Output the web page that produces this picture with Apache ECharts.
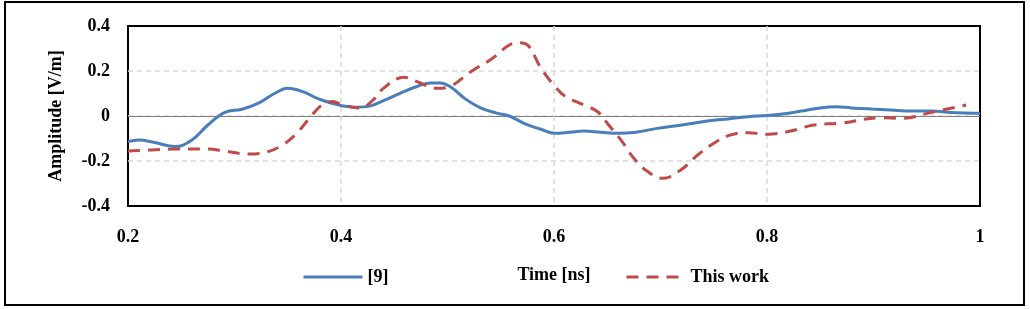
<!DOCTYPE html>
<html>
<head>
<meta charset="utf-8">
<script src="https://cdn.jsdelivr.net/npm/echarts@6/dist/echarts.min.js"></script>
<style>
html,body{margin:0;padding:0;background:#fff;}
#c{width:1030px;height:309px;}
</style>
</head>
<body>
<div id="c"></div>
<script>
// ---- data ----
var seriesNames = ['[9]', 'This work'];
var xTickLabels = ['0.2', '0.4', '0.6', '0.8', '1'];
var yTickLabels = ['-0.4', '-0.2', '0', '0.2', '0.4'];
var xTitle = 'Time [ns]';
var yTitle = 'Amplitude [V/m]';

var refTime = [0.2, 0.21, 0.225, 0.244, 0.26, 0.275, 0.291, 0.307, 0.322, 0.338, 0.35, 0.364, 0.379, 0.392, 0.402, 0.413, 0.427, 0.441, 0.456, 0.47, 0.484, 0.493, 0.503, 0.517, 0.531, 0.546, 0.558, 0.573, 0.587, 0.601, 0.615, 0.628, 0.644, 0.66, 0.677, 0.697, 0.72, 0.744, 0.765, 0.782, 0.8, 0.82, 0.832, 0.85, 0.865, 0.879, 0.898, 0.916, 0.935, 0.954, 0.973, 1.0];
var refAmp = [-0.114, -0.107, -0.118, -0.136, -0.107, -0.04, 0.016, 0.03, 0.056, 0.101, 0.123, 0.108, 0.076, 0.056, 0.044, 0.039, 0.044, 0.071, 0.102, 0.129, 0.147, 0.147, 0.129, 0.075, 0.036, 0.013, 0.0, -0.035, -0.058, -0.077, -0.072, -0.067, -0.072, -0.077, -0.072, -0.055, -0.04, -0.022, -0.012, -0.003, 0.002, 0.012, 0.022, 0.036, 0.041, 0.036, 0.031, 0.027, 0.022, 0.022, 0.016, 0.012];

var workTime = [0.2, 0.222, 0.244, 0.275, 0.291, 0.313, 0.331, 0.345, 0.357, 0.369, 0.382, 0.392, 0.402, 0.418, 0.43, 0.44, 0.459, 0.472, 0.49, 0.503, 0.522, 0.54, 0.566, 0.575, 0.587, 0.601, 0.611, 0.628, 0.641, 0.65, 0.663, 0.675, 0.688, 0.702, 0.719, 0.735, 0.75, 0.766, 0.782, 0.801, 0.822, 0.844, 0.869, 0.907, 0.926, 0.957, 0.987];
var workAmp = [-0.156, -0.151, -0.147, -0.147, -0.156, -0.169, -0.159, -0.129, -0.084, -0.018, 0.049, 0.064, 0.049, 0.035, 0.071, 0.124, 0.172, 0.152, 0.123, 0.133, 0.197, 0.249, 0.326, 0.316, 0.219, 0.13, 0.086, 0.049, 0.019, -0.032, -0.107, -0.188, -0.247, -0.277, -0.24, -0.173, -0.121, -0.084, -0.074, -0.081, -0.067, -0.04, -0.032, -0.008, -0.01, 0.019, 0.049];

function pairs(xs, ys) { return xs.map(function (x, i) { return [x, ys[i]]; }); }

var FONT = 'Liberation Serif';
var txt = { fontFamily: FONT, fontWeight: 'bold', fontSize: 18, color: '#000' };

var chart = echarts.init(document.getElementById('c'), null, { renderer: 'canvas' });
chart.setOption({
  animation: false,
  backgroundColor: '#fff',
  graphic: [{
    type: 'rect', shape: { x: 5, y: 2, width: 1019, height: 303 },
    style: { fill: 'none', stroke: '#000', lineWidth: 2 }, silent: true, z: 100
  }],
  grid: { left: 128, right: 50, top: 26, bottom: 103, show: true, borderColor: '#000', borderWidth: 2, backgroundColor: 'transparent' },
  legend: [{
    data: [seriesNames[0]], left: 297, top: 263, itemWidth: 59, itemHeight: 14, itemGap: 5,
    itemStyle: { opacity: 0 }, lineStyle: { width: 3 },
    textStyle: txt
  }, {
    data: [seriesNames[1]], left: 620, top: 263, itemWidth: 59, itemHeight: 14, itemGap: 5,
    itemStyle: { opacity: 0 }, lineStyle: { width: 3 },
    textStyle: txt
  }],
  xAxis: {
    type: 'value', min: 0.2, max: 1, interval: 0.2,
    name: xTitle, nameLocation: 'middle', nameGap: 60, nameTextStyle: txt,
    axisLine: { show: false }, axisTick: { show: false },
    axisLabel: Object.assign({ margin: 22, formatter: function (v) { return xTickLabels[Math.round((v - 0.2) / 0.2)]; } }, txt),
    splitLine: { show: true, showMinLine: false, showMaxLine: false, lineStyle: { color: '#d9d9d9', type: [5, 4], width: 1.5 } }
  },
  yAxis: [{
    type: 'value', min: -0.4, max: 0.4, interval: 0.2,
    name: yTitle, nameLocation: 'middle', nameGap: 63, nameTextStyle: txt,
    axisLine: { show: false }, axisTick: { show: false },
    axisLabel: Object.assign({ margin: 18, formatter: function (v) { return yTickLabels[Math.round((v + 0.4) / 0.2)]; } }, txt),
    splitLine: { show: true, showMinLine: false, showMaxLine: false, lineStyle: { color: '#d9d9d9', type: [5, 4], width: 1.5 } }
  }, {
    type: 'value', min: -0.4, max: 0.4, interval: 0.4, position: 'left',
    axisLine: { show: false }, axisTick: { show: false }, axisLabel: { show: false },
    splitLine: { show: true, showMinLine: false, showMaxLine: false, lineStyle: { color: '#808080', type: 'solid', width: 1 } }
  }],
  series: [{
    name: seriesNames[0], type: 'line', data: pairs(refTime, refAmp),
    smooth: 0.4, symbol: 'none', yAxisIndex: 0,
    lineStyle: { color: '#4a7ebb', width: 3 }, itemStyle: { color: '#4a7ebb' }
  }, {
    name: seriesNames[1], type: 'line', data: pairs(workTime, workAmp),
    smooth: 0.4, symbol: 'none', yAxisIndex: 0,
    lineStyle: { color: '#be4b48', width: 3, type: [12, 8] }, itemStyle: { color: '#be4b48' }
  }]
});
</script>
</body>
</html>
